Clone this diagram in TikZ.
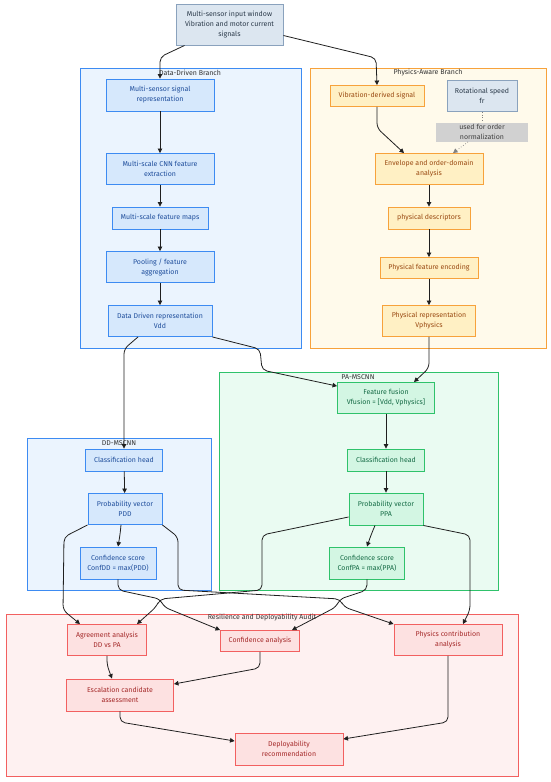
\documentclass[tikz,border=0pt]{standalone}
\usepackage{fontspec}
\setmainfont{Fira Sans}
\usetikzlibrary{arrows.meta}

\definecolor{ddfill}{HTML}{D6E8FC}
\definecolor{ddline}{HTML}{3D8BF2}
\definecolor{ddtext}{HTML}{1F4E9C}
\definecolor{ddgrpfill}{HTML}{EBF4FE}
\definecolor{pafill}{HTML}{FFF0C4}
\definecolor{paline}{HTML}{F7A23B}
\definecolor{patext}{HTML}{9A4A12}
\definecolor{pagrpfill}{HTML}{FFFAEB}
\definecolor{fufill}{HTML}{D3F6E3}
\definecolor{fuline}{HTML}{2FC26B}
\definecolor{futext}{HTML}{146B45}
\definecolor{fugrpfill}{HTML}{EAFBF2}
\definecolor{aufill}{HTML}{FDE1E1}
\definecolor{auline}{HTML}{F26060}
\definecolor{autext}{HTML}{A52A2A}
\definecolor{augrpfill}{HTML}{FEF1F1}
\definecolor{infill}{HTML}{DCE6F0}
\definecolor{inline}{HTML}{8AA2BD}
\definecolor{intext}{HTML}{2B3A4A}

\tikzset{
	blk/.style={draw, line width=0.9pt, align=center, inner sep=1pt, font=\fontsize{7}{10}\selectfont},
	inbox/.style={blk, fill=infill, draw=inline, text=intext},
	ddbox/.style={blk, fill=ddfill, draw=ddline, text=ddtext},
	pabox/.style={blk, fill=pafill, draw=paline, text=patext},
	fubox/.style={blk, fill=fufill, draw=fuline, text=futext},
	aubox/.style={blk, fill=aufill, draw=auline, text=autext},
	notebox/.style={blk, draw=none, fill=black!18, text=black!75},
	grplbl/.style={inner sep=0pt, text=black!80, font=\fontsize{7}{9}\selectfont},
	flow/.style={draw=black!88, line width=0.8pt, rounded corners=5pt, -{Triangle[length=4.5pt,width=4.5pt]}},
	dotln/.style={draw=black!50, line width=0.7pt, dotted},
}

\begin{document}
\begin{tikzpicture}[x=1pt, y=-1pt]
			%%%%% START %%%%%
			\useasboundingbox (0,0) rectangle (550,782);
			
			\node[inbox, minimum width=107pt, minimum height=41pt] (inp) at (229.5,24.5) {Multi-sensor input window\\Vibration and motor current\\signals};
			
			% data-driven branch
			\draw[fill=ddgrpfill, draw=ddline, line width=0.9pt] (80,68) rectangle (301,348);
			\node[grplbl] (ddlbl) at (190,73) {Data-Driven Branch};
			\node[ddbox, minimum width=108pt, minimum height=32pt] (dd1) at (160,95) {Multi-sensor signal\\representation};
			\node[ddbox, minimum width=108pt, minimum height=31pt] (dd2) at (160,169) {Multi-scale CNN feature\\extraction};
			\node[ddbox, minimum width=96pt, minimum height=22pt] (dd3) at (160,218) {Multi-scale feature maps};
			\node[ddbox, minimum width=108pt, minimum height=31pt] (dd4) at (160,267) {Pooling / feature\\aggregation};
			\node[ddbox, minimum width=104pt, minimum height=31pt] (dd5) at (160,321) {Data Driven representation\\Vdd};
			
			% physics-aware branch
			\draw[fill=pagrpfill, draw=paline, line width=0.9pt] (310,68) rectangle (546,348);
			\node[grplbl] (palbl) at (428,73) {Physics-Aware Branch};
			\node[pabox, minimum width=94pt, minimum height=21pt] (pa1) at (377,96) {Vibration-derived signal};
			\node[inbox, minimum width=70pt, minimum height=31pt] (pa2) at (482,96) {Rotational speed\\fr};
			\node[notebox, minimum width=92pt, minimum height=19pt] (nrm) at (482,132) {used for order\\normalization};
			\node[pabox, minimum width=108pt, minimum height=31pt] (pa3) at (429,169) {Envelope and order-domain\\analysis};
			\node[pabox, minimum width=82pt, minimum height=22pt] (pa4) at (429,218) {physical descriptors};
			\node[pabox, minimum width=98pt, minimum height=21pt] (pa5) at (429,268) {Physical feature encoding};
			\node[pabox, minimum width=93pt, minimum height=31pt] (pa6) at (429,321) {Physical representation\\Vphysics};
			
			% PA-MSCNN
			\draw[fill=fugrpfill, draw=fuline, line width=0.9pt] (219,372) rectangle (498,590);
			\node[grplbl] (fulbl) at (358,377) {PA-MSCNN};
			\node[fubox, minimum width=97pt, minimum height=31pt] (fus) at (386,398) {Feature fusion\\Vfusion = [Vdd, Vphysics]};
			\node[fubox, minimum width=77pt, minimum height=22pt] (pac) at (386,460) {Classification head};
			\node[fubox, minimum width=74pt, minimum height=32pt] (pap) at (386,509) {Probability vector\\PPA};
			\node[fubox, minimum width=75pt, minimum height=32pt] (pacf) at (367,563) {Confidence score\\ConfPA = max(PPA)};
			
			% DD-MSCNN
			\draw[fill=ddgrpfill, draw=ddline, line width=0.9pt] (27,438) rectangle (211,590);
			\node[grplbl] (dmlbl) at (119,443) {DD-MSCNN};
			\node[ddbox, minimum width=77pt, minimum height=22pt] (ddc) at (124,460) {Classification head};
			\node[ddbox, minimum width=74pt, minimum height=31pt] (ddp) at (125,509) {Probability vector\\PDD};
			\node[ddbox, minimum width=76pt, minimum height=32pt] (ddcf) at (118,563) {Confidence score\\ConfDD = max(PDD)};
			
			% audit
			\draw[fill=augrpfill, draw=auline, line width=0.9pt] (6,614) rectangle (518,776);
			\node[grplbl] (aulbl) at (262,618) {Resilience and Deployability Audit};
			\node[aubox, minimum width=79pt, minimum height=31pt] (agr) at (107,640) {Agreement analysis\\DD vs PA};
			\node[aubox, minimum width=79pt, minimum height=21pt] (cnf) at (260,641) {Confidence analysis};
			\node[aubox, minimum width=108pt, minimum height=31pt] (phy) at (448,640) {Physics contribution\\analysis};
			\node[aubox, minimum width=107pt, minimum height=32pt] (esc) at (120,695) {Escalation candidate\\assessment};
			\node[aubox, minimum width=108pt, minimum height=32pt] (dep) at (289,749) {Deployability\\recommendation};
			
			% connectors
			\draw[flow] ([xshift=9pt]inp.south west) -- (160,57) -- (dd1.north);
			\draw[flow] ([yshift=-11pt]inp.east) -- (376,58) -- (pa1.north);
			\draw[flow] (dd1) -- (dd2);
			\draw[flow] (dd2) -- (dd3);
			\draw[flow] (dd3) -- (dd4);
			\draw[flow] (dd4) -- (dd5);
			
			\draw[flow] (pa1.south) -- (377,128) -- ([xshift=-25pt]pa3.north);
			\draw[dotln] (pa2) -- (nrm);
			\draw[dotln, -{Triangle[length=4.5pt,width=4.5pt]}] ([xshift=-14pt]nrm.south) -- ([xshift=24pt]pa3.north);
			\draw[flow] (pa3) -- (pa4);
			\draw[flow] (pa4) -- (pa5);
			\draw[flow] (pa5) -- (pa6);
			
			\draw[flow] (dd5.south east) -- (260,349) -- (262,370) -- ([yshift=-4pt]fus.north west);
			\draw[flow] (pa6.south) -- (429,368) -- ([xshift=28pt]fus.north);
			\draw[flow] ([xshift=-22pt]dd5.south) -- (124,349) -- (ddc.north);
			\draw[flow] (fus) -- (pac);
			\draw[flow] (pac) -- (pap);
			\draw[flow] ([xshift=-11pt]pap.south) -- (371,535) -- (pacf.north);
			\draw[flow] (ddc) -- (ddp);
			\draw[flow] ([xshift=-4pt]ddp.south) -- (120,535) -- (ddcf.north);
			
			\draw[flow] (ddp.south west) -- (64,537) -- (63,610) -- ([xshift=-27pt]agr.north);
			\draw[flow] ([yshift=-8pt]pap.west) -- (262,535) -- (262,590) -- (160,599) -- (156,607) -- ([xshift=30pt]agr.north);
			\draw[flow] (ddcf.south) -- (118,590) -- (160,599) -- (164,607) -- (cnf.north west);
			\draw[flow] (ddp.south east) -- (178,537) -- (178,590) -- (340,599) -- (344,607) -- (phy.north west);
			\draw[flow] (pacf.south) -- (367,590) -- (340,599) -- (336,607) -- ([xshift=32pt]cnf.north);
			\draw[flow] (pap.south east) -- (470,535) -- (470,610) -- ([xshift=15pt]phy.north);
			
			\draw[flow] (agr.south) -- (107,665) -- ([xshift=-8pt]esc.north);
			\draw[flow] (cnf.south) -- (260,668) -- ([yshift=11pt]esc.east);
			\draw[flow] (esc.south) -- (120,722) -- ([yshift=8pt]dep.west);
			\draw[flow] (phy.south) -- (448,722) -- ([yshift=10pt]dep.east);
			%%%%% END %%%%%
\end{tikzpicture}
\end{document}
